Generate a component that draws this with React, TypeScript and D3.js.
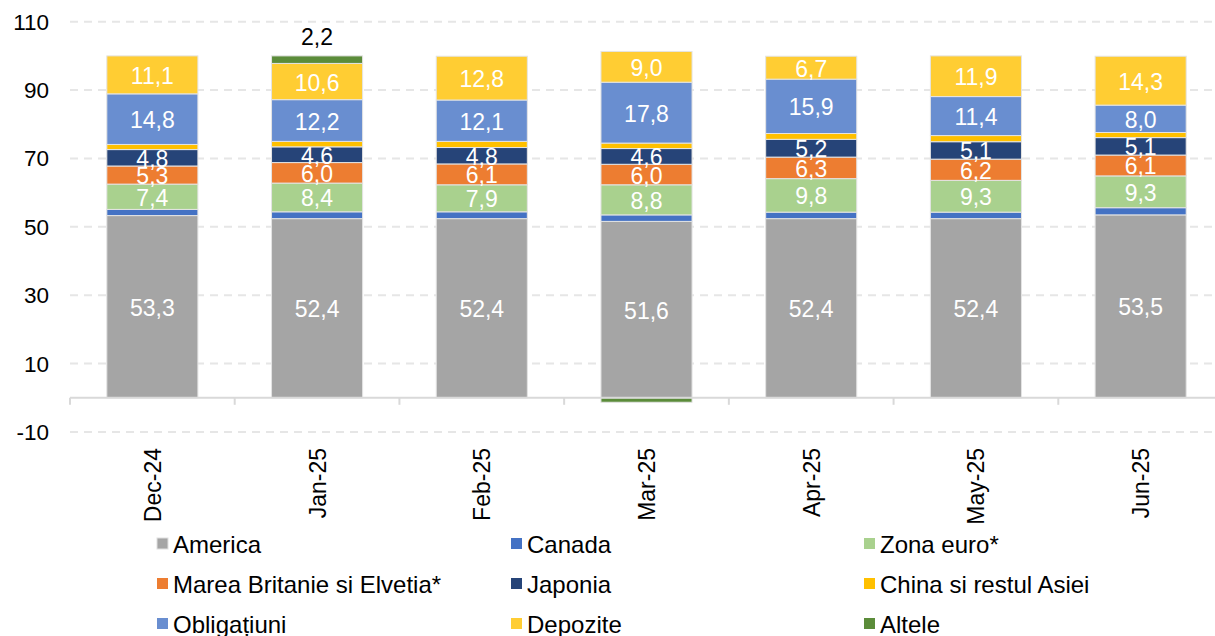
import React from "react";
import * as d3 from "d3";

const categories = ["Dec-24", "Jan-25", "Feb-25", "Mar-25", "Apr-25", "May-25", "Jun-25"];
const america = [53.3, 52.4, 52.4, 51.6, 52.4, 52.4, 53.5];
const canada = [1.8, 2.0, 2.0, 1.9, 1.9, 1.9, 2.1];
const zonaEuro = [7.4, 8.4, 7.9, 8.8, 9.8, 9.3, 9.3];
const mareaBritanie = [5.3, 6.0, 6.1, 6.0, 6.3, 6.2, 6.1];
const japonia = [4.8, 4.6, 4.8, 4.6, 5.2, 5.1, 5.1];
const china = [1.5, 1.6, 1.8, 1.6, 1.7, 1.8, 1.5];
const obligatiuni = [14.8, 12.2, 12.1, 17.8, 15.9, 11.4, 8.0];
const depozite = [11.1, 10.6, 12.8, 9.0, 6.7, 11.9, 14.3];
const altele = [0, 2.2, 0, -1.3, 0, 0, 0];
const yTicks = [-10, 10, 30, 50, 70, 90, 110];

const seriesDefs = [
  { key: "America", values: america, color: "#A5A5A5", label: "in" },
  { key: "Canada", values: canada, color: "#4472C4", label: "none" },
  { key: "Zona euro*", values: zonaEuro, color: "#A9D18E", label: "in" },
  { key: "Marea Britanie si Elvetia*", values: mareaBritanie, color: "#ED7D31", label: "in" },
  { key: "Japonia", values: japonia, color: "#264478", label: "in" },
  { key: "China si restul Asiei", values: china, color: "#FFC000", label: "none" },
  { key: "Obligațiuni", values: obligatiuni, color: "#698ED0", label: "in" },
  { key: "Depozite", values: depozite, color: "#FFCD33", label: "in" },
  { key: "Altele", values: altele, color: "#5B8C3A", label: "above" },
];

const W = 1215;
const H = 636;
const plotLeft = 70;
const plotRight = 1223;
const FONT = "'Liberation Sans', Arial, sans-serif";
const FS = 23;
const LFS = 24;

const fmt = (v: number) => d3.format(".1f")(v).replace(".", ",");

export default function App() {
  const y = d3.scaleLinear().domain([-10, 110]).range([432, 21.7]);
  const x = d3
    .scaleBand<string>()
    .domain(categories)
    .range([plotLeft, plotRight])
    .paddingInner(0.447)
    .paddingOuter(0.2235);
  const step = x.step();

  const table = categories.map((c, i) => {
    const row: any = { cat: c };
    seriesDefs.forEach((s) => (row[s.key] = s.values[i]));
    return row;
  });
  const stacked = d3
    .stack<any>()
    .keys(seriesDefs.map((s) => s.key))
    .offset(d3.stackOffsetDiverging)(table);

  const legendCols = [173, 527, 880];
  const legendRows = [544, 584, 624];

  return (
    <svg
      width={W}
      height={H}
      style={{ position: "absolute", left: 0, top: 0, background: "#fff" }}
      fontFamily={FONT}
    >
      {yTicks.map((t) => (
        <line
          key={"g" + t}
          x1={plotLeft}
          x2={W}
          y1={y(t)}
          y2={y(t)}
          stroke="#E6E6E6"
          strokeWidth={2}
          strokeDasharray="8,6"
        />
      ))}
      {yTicks.map((t) => (
        <text
          key={"yl" + t}
          x={49}
          y={y(t) + 8}
          textAnchor="end"
          fontSize={22.5}
          fill="#000"
        >
          {t}
        </text>
      ))}
      {stacked.map((layer, si) => (
        <g key={"s" + si}>
          {layer.map((d, i) => {
            const v = seriesDefs[si].values[i];
            if (v === 0) return null;
            const y0 = y(Math.max(d[0], d[1]));
            const y1 = y(Math.min(d[0], d[1]));
            return (
              <rect
                key={i}
                x={x(categories[i])!}
                y={y0}
                width={x.bandwidth()}
                height={y1 - y0}
                fill={seriesDefs[si].color}
                stroke="#E4E4E4"
                strokeWidth={1}
              />
            );
          })}
        </g>
      ))}
      <line x1={plotLeft} x2={W} y1={y(0)} y2={y(0)} stroke="#D9D9D9" strokeWidth={2} />
      {d3.range(categories.length + 1).map((i) => (
        <line
          key={"t" + i}
          x1={plotLeft + i * step}
          x2={plotLeft + i * step}
          y1={y(0)}
          y2={y(0) + 7}
          stroke="#D9D9D9"
          strokeWidth={2}
        />
      ))}
      {stacked.map((layer, si) =>
        layer.map((d, i) => {
          const s = seriesDefs[si];
          const v = s.values[i];
          if (s.label === "none" || v === 0) return null;
          const cx = x(categories[i])! + x.bandwidth() / 2;
          if (s.label === "above") {
            if (v < 0) return null;
            return (
              <text
                key={"l" + si + "-" + i}
                x={cx}
                y={y(d[1]) - 19 + 8}
                textAnchor="middle"
                fontSize={FS}
                fill="#000"
              >
                {fmt(v)}
              </text>
            );
          }
          const cy = (y(d[0]) + y(d[1])) / 2;
          return (
            <text
              key={"l" + si + "-" + i}
              x={cx}
              y={cy + 9}
              textAnchor="middle"
              fontSize={FS}
              fill="#fff"
            >
              {fmt(v)}
            </text>
          );
        })
      )}
      {categories.map((c) => {
        const cx = x(c)! + x.bandwidth() / 2;
        return (
          <text
            key={"xl" + c}
            transform={`translate(${cx + 8.5},${448}) rotate(-90)`}
            textAnchor="end"
            fontSize={FS}
            fill="#000"
          >
            {c}
          </text>
        );
      })}
      {seriesDefs.map((s, i) => {
        const col = i % 3;
        const row = Math.floor(i / 3);
        const tx = legendCols[col];
        const ty = legendRows[row];
        return (
          <g key={"lg" + i}>
            <rect
              x={tx - 16}
              y={ty - 6}
              width={11}
              height={11}
              fill={s.color}
              stroke={i === 0 ? "#E0E0E0" : "none"}
              strokeWidth={1}
            />
            <text x={tx} y={ty + 8.5} fontSize={LFS} fill="#000">
              {s.key}
            </text>
          </g>
        );
      })}
    </svg>
  );
}
